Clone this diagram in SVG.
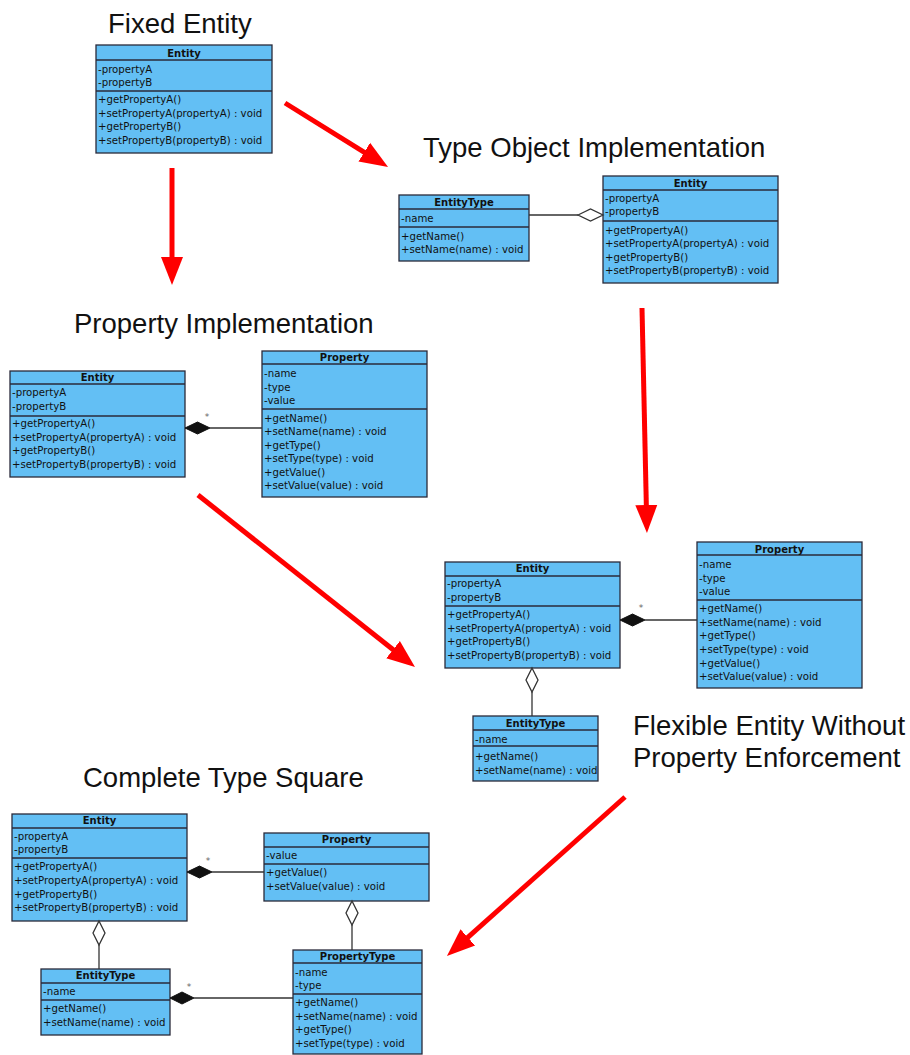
<svg xmlns="http://www.w3.org/2000/svg" width="910" height="1055" viewBox="0 0 910 1055">
<style>
.box{fill:#63bff4;stroke:#2a2a3a;stroke-width:1.3}
.sep{stroke:#2a2a3a;stroke-width:1.3}
.t{font-family:"DejaVu Sans",sans-serif;font-size:10.2px;fill:#111}
.h{font-family:"DejaVu Sans",sans-serif;font-size:10px;font-weight:bold;fill:#111;text-anchor:middle}
.title{font-family:"Liberation Sans",Arial,sans-serif;font-size:27.5px;fill:#111}
.conn{stroke:#333;stroke-width:1.3;fill:none}
.comp{fill:#111;stroke:#111;stroke-width:1}
.agg{fill:#fff;stroke:#333;stroke-width:1.3}
.star{font-family:"DejaVu Sans",sans-serif;font-size:9px;fill:#666;text-anchor:middle}
.red{stroke:#ff0000;stroke-width:5;fill:none}
</style>
<defs>
<marker id="rh" markerUnits="userSpaceOnUse" markerWidth="30" markerHeight="24" viewBox="0 0 30 24" refX="3" refY="12" orient="auto">
<path d="M0,1 L28,12 L0,23 z" fill="#ff0000"/>
</marker>
</defs>
<rect width="910" height="1055" fill="#fff"/>

<g id="titles">
<text class="title" x="108" y="33">Fixed Entity</text>
<text class="title" x="423" y="157">Type Object Implementation</text>
<text class="title" x="74" y="333">Property Implementation</text>
<text class="title" x="633" y="735">Flexible Entity Without</text>
<text class="title" x="633" y="767">Property Enforcement</text>
<text class="title" x="83" y="787">Complete Type Square</text>
</g>

<g id="fixed-entity">
<rect class="box" x="96" y="45" width="176" height="108"/>
<line class="sep" x1="96" y1="60" x2="272" y2="60"/>
<line class="sep" x1="96" y1="91" x2="272" y2="91"/>
<text class="h" x="184" y="56.5">Entity</text>
<text class="t" x="98" y="72.5">-propertyA</text>
<text class="t" x="98" y="85.5">-propertyB</text>
<text class="t" x="98" y="103">+getPropertyA()</text>
<text class="t" x="98" y="116.5">+setPropertyA(propertyA) : void</text>
<text class="t" x="98" y="130">+getPropertyB()</text>
<text class="t" x="98" y="143.5">+setPropertyB(propertyB) : void</text>
</g>

<g id="to-entitytype">
<rect class="box" x="399" y="195" width="130" height="66"/>
<line class="sep" x1="399" y1="209" x2="529" y2="209"/>
<line class="sep" x1="399" y1="227" x2="529" y2="227"/>
<text class="h" x="464" y="206">EntityType</text>
<text class="t" x="401" y="221.5">-name</text>
<text class="t" x="401" y="239.5">+getName()</text>
<text class="t" x="401" y="252.5">+setName(name) : void</text>
</g>

<g id="to-entity">
<rect class="box" x="603" y="176" width="175" height="107"/>
<line class="sep" x1="603" y1="190" x2="778" y2="190"/>
<line class="sep" x1="603" y1="221" x2="778" y2="221"/>
<text class="h" x="690.5" y="186.5">Entity</text>
<text class="t" x="605" y="201.5">-propertyA</text>
<text class="t" x="605" y="215">-propertyB</text>
<text class="t" x="605" y="233.5">+getPropertyA()</text>
<text class="t" x="605" y="247">+setPropertyA(propertyA) : void</text>
<text class="t" x="605" y="260.5">+getPropertyB()</text>
<text class="t" x="605" y="274">+setPropertyB(propertyB) : void</text>
</g>

<g id="pi-entity">
<rect class="box" x="10" y="371" width="175" height="106"/>
<line class="sep" x1="10" y1="384" x2="185" y2="384"/>
<line class="sep" x1="10" y1="416" x2="185" y2="416"/>
<text class="h" x="97.5" y="381">Entity</text>
<text class="t" x="12" y="396">-propertyA</text>
<text class="t" x="12" y="410">-propertyB</text>
<text class="t" x="12" y="427">+getPropertyA()</text>
<text class="t" x="12" y="440.5">+setPropertyA(propertyA) : void</text>
<text class="t" x="12" y="454">+getPropertyB()</text>
<text class="t" x="12" y="467.5">+setPropertyB(propertyB) : void</text>
</g>

<g id="pi-property">
<rect class="box" x="262" y="351" width="165" height="146"/>
<line class="sep" x1="262" y1="364" x2="427" y2="364"/>
<line class="sep" x1="262" y1="409" x2="427" y2="409"/>
<text class="h" x="344.5" y="361">Property</text>
<text class="t" x="264" y="377">-name</text>
<text class="t" x="264" y="390.5">-type</text>
<text class="t" x="264" y="404">-value</text>
<text class="t" x="264" y="421.5">+getName()</text>
<text class="t" x="264" y="435">+setName(name) : void</text>
<text class="t" x="264" y="448.5">+getType()</text>
<text class="t" x="264" y="462">+setType(type) : void</text>
<text class="t" x="264" y="475.5">+getValue()</text>
<text class="t" x="264" y="489">+setValue(value) : void</text>
</g>

<g id="fe-entity">
<rect class="box" x="445" y="562" width="175" height="106"/>
<line class="sep" x1="445" y1="576" x2="620" y2="576"/>
<line class="sep" x1="445" y1="606" x2="620" y2="606"/>
<text class="h" x="532.5" y="572">Entity</text>
<text class="t" x="447" y="587">-propertyA</text>
<text class="t" x="447" y="600.5">-propertyB</text>
<text class="t" x="447" y="618">+getPropertyA()</text>
<text class="t" x="447" y="631.5">+setPropertyA(propertyA) : void</text>
<text class="t" x="447" y="645">+getPropertyB()</text>
<text class="t" x="447" y="658.5">+setPropertyB(propertyB) : void</text>
</g>

<g id="fe-property">
<rect class="box" x="697" y="542" width="165" height="146"/>
<line class="sep" x1="697" y1="555" x2="862" y2="555"/>
<line class="sep" x1="697" y1="600" x2="862" y2="600"/>
<text class="h" x="779.5" y="552.5">Property</text>
<text class="t" x="699" y="568">-name</text>
<text class="t" x="699" y="581.5">-type</text>
<text class="t" x="699" y="595">-value</text>
<text class="t" x="699" y="611.5">+getName()</text>
<text class="t" x="699" y="625.5">+setName(name) : void</text>
<text class="t" x="699" y="639">+getType()</text>
<text class="t" x="699" y="653">+setType(type) : void</text>
<text class="t" x="699" y="666.5">+getValue()</text>
<text class="t" x="699" y="680">+setValue(value) : void</text>
</g>

<g id="fe-entitytype">
<rect class="box" x="473" y="716" width="125" height="65"/>
<line class="sep" x1="473" y1="730" x2="598" y2="730"/>
<line class="sep" x1="473" y1="746" x2="598" y2="746"/>
<text class="h" x="535.5" y="727">EntityType</text>
<text class="t" x="475" y="742.5">-name</text>
<text class="t" x="475" y="759.5">+getName()</text>
<text class="t" x="475" y="773.5">+setName(name) : void</text>
</g>

<g id="cts-entity">
<rect class="box" x="12" y="814" width="175" height="107"/>
<line class="sep" x1="12" y1="828" x2="187" y2="828"/>
<line class="sep" x1="12" y1="858" x2="187" y2="858"/>
<text class="h" x="99.5" y="824">Entity</text>
<text class="t" x="14" y="840">-propertyA</text>
<text class="t" x="14" y="853">-propertyB</text>
<text class="t" x="14" y="870">+getPropertyA()</text>
<text class="t" x="14" y="883.5">+setPropertyA(propertyA) : void</text>
<text class="t" x="14" y="897.5">+getPropertyB()</text>
<text class="t" x="14" y="911">+setPropertyB(propertyB) : void</text>
</g>

<g id="cts-property">
<rect class="box" x="264" y="833" width="165" height="68"/>
<line class="sep" x1="264" y1="847" x2="429" y2="847"/>
<line class="sep" x1="264" y1="864" x2="429" y2="864"/>
<text class="h" x="346.5" y="843">Property</text>
<text class="t" x="266" y="858.5">-value</text>
<text class="t" x="266" y="876">+getValue()</text>
<text class="t" x="266" y="889.5">+setValue(value) : void</text>
</g>

<g id="cts-entitytype">
<rect class="box" x="41" y="969" width="129" height="66"/>
<line class="sep" x1="41" y1="983" x2="170" y2="983"/>
<line class="sep" x1="41" y1="1000" x2="170" y2="1000"/>
<text class="h" x="105.5" y="979">EntityType</text>
<text class="t" x="43" y="994.5">-name</text>
<text class="t" x="43" y="1011.5">+getName()</text>
<text class="t" x="43" y="1025.5">+setName(name) : void</text>
</g>

<g id="cts-propertytype">
<rect class="box" x="293" y="950" width="129" height="104"/>
<line class="sep" x1="293" y1="963" x2="422" y2="963"/>
<line class="sep" x1="293" y1="994" x2="422" y2="994"/>
<text class="h" x="357.5" y="960">PropertyType</text>
<text class="t" x="295" y="976">-name</text>
<text class="t" x="295" y="989">-type</text>
<text class="t" x="295" y="1006">+getName()</text>
<text class="t" x="295" y="1019.5">+setName(name) : void</text>
<text class="t" x="295" y="1033">+getType()</text>
<text class="t" x="295" y="1046.5">+setType(type) : void</text>
</g>

<g id="connectors">
<line class="conn" x1="529" y1="215" x2="578" y2="215"/>
<polygon class="agg" points="578,215 590.5,209 603,215 590.5,221"/>
<line class="conn" x1="210" y1="428" x2="262" y2="428"/>
<polygon class="comp" points="185,428 197.5,422 210,428 197.5,434"/>
<text class="star" x="207" y="420">*</text>
<line class="conn" x1="645" y1="620" x2="697" y2="620"/>
<polygon class="comp" points="620,620 632.5,614 645,620 632.5,626"/>
<text class="star" x="641" y="611">*</text>
<line class="conn" x1="532" y1="692" x2="532" y2="716"/>
<polygon class="agg" points="532,668 538,680 532,692 526,680"/>
<line class="conn" x1="212" y1="872" x2="264" y2="872"/>
<polygon class="comp" points="187,872 199.5,866 212,872 199.5,878"/>
<text class="star" x="208" y="864">*</text>
<line class="conn" x1="99" y1="945" x2="99" y2="969"/>
<polygon class="agg" points="99,921 105,933 99,945 93,933"/>
<line class="conn" x1="352" y1="925" x2="352" y2="950"/>
<polygon class="agg" points="352,901 358,913 352,925 346,913"/>
<line class="conn" x1="194" y1="998" x2="293" y2="998"/>
<polygon class="comp" points="170,998 182,992 194,998 182,1004"/>
<text class="star" x="189" y="990">*</text>
<line class="red" x1="285" y1="103" x2="366.8" y2="153.8" marker-end="url(#rh)"/>
<line class="red" x1="172" y1="168" x2="172" y2="260" marker-end="url(#rh)"/>
<line class="red" x1="642" y1="308" x2="646.4" y2="508" marker-end="url(#rh)"/>
<line class="red" x1="198" y1="495" x2="395.4" y2="651.5" marker-end="url(#rh)"/>
<line class="red" x1="625" y1="797" x2="465.6" y2="939.4" marker-end="url(#rh)"/>
</g>
</svg>
